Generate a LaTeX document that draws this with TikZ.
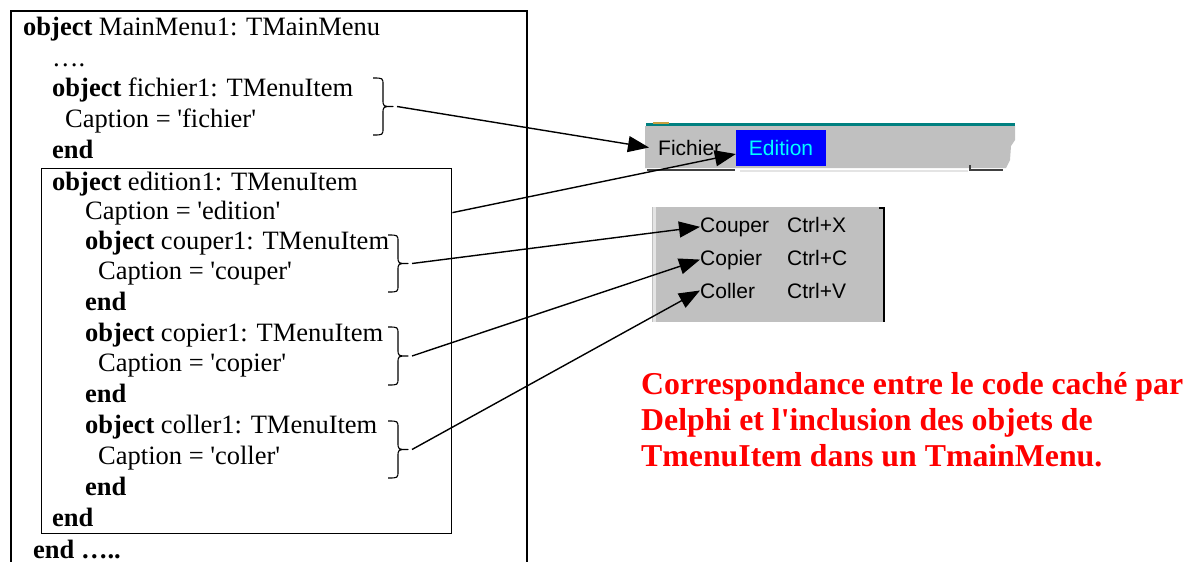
\documentclass[tikz,border=0pt]{standalone}
\usepackage{fontspec}
\setmainfont{Liberation Serif}
\newfontfamily\menufont{Liberation Sans}
\usepackage{xcolor}
\definecolor{MenuGrey}{HTML}{C0C0C0}
\definecolor{EdgeDark}{HTML}{404040}
\definecolor{EdgeLight}{HTML}{E4E4E4}
\definecolor{Teal}{HTML}{008080}
\definecolor{Mustard}{HTML}{C8A040}
\definecolor{HiBlue}{HTML}{0000FF}
\definecolor{HiCyan}{HTML}{00FFFF}
\definecolor{NoteRed}{HTML}{FF0000}
\usepackage{tikz}
\usetikzlibrary{arrows.meta,positioning}
\newcommand{\q}{\textquotesingle}
\tikzset{
  pics/curly/.style={code={
    \draw[line width=1.1pt,line join=round]
      (0,0) .. controls (10,0) .. (10,7) -- (10,#1/2-7)
      .. controls (10,#1/2) .. (20,#1/2)
      .. controls (10,#1/2) .. (10,#1/2+7) -- (10,#1-7)
      .. controls (10,#1) .. (0,#1);
    \coordinate (-tip) at (24,#1/2);
  }}
}

\begin{document}
\begin{tikzpicture}[
  x=1pt,y=-1pt,
  code/.style={anchor=base west,inner sep=0pt,font=\fontsize{26.5}{31}\selectfont},
  item/.style={anchor=base west,inner sep=0pt,font=\menufont\fontsize{21}{24}\selectfont},
  note/.style={anchor=base west,inner sep=0pt,text=NoteRed,font=\bfseries\fontsize{31.8}{36}\selectfont},
  frame/.style={draw=black,line width=1.4pt},
  arrow/.style={-{Triangle[length=21pt,width=16pt]},line width=1.4pt}
]
\useasboundingbox (0,0) rectangle (1191,562);

% code hidden by Delphi
\draw[frame] (11,566) |- (527,11) -- (527,566);
\node[frame,anchor=north west,minimum width=410pt,minimum height=365pt,inner sep=0pt] (edbox) at (41,168) {};

\node[code] (mainobj) at (23,35) {\textbf{object} MainMenu1: TMainMenu};
\node[code] (dots) at (52,66) {….};
\node[code] (fichobj) at (52,96) {\textbf{object} fichier1: TMenuItem};
\node[code] (fichcap) at (65,127) {Caption = \q fichier\q};
\node[code] (fichend) at (52,158) {\textbf{end}};
\node[code] (edobj) at (52,190) {\textbf{object} edition1: TMenuItem};
\node[code] (edcap) at (85,219) {Caption = \q edition\q};
\node[code] (coupobj) at (85,249) {\textbf{object} couper1: TMenuItem};
\node[code] (coupcap) at (98,279) {Caption = \q couper\q};
\node[code] (coupend) at (85,310) {\textbf{end}};
\node[code] (copobj) at (85,341) {\textbf{object} copier1: TMenuItem};
\node[code] (copcap) at (98,371) {Caption = \q copier\q};
\node[code] (copend) at (85,402) {\textbf{end}};
\node[code] (colobj) at (85,433) {\textbf{object} coller1: TMenuItem};
\node[code] (colcap) at (98,464) {Caption = \q coller\q};
\node[code] (colend) at (85,495) {\textbf{end}};
\node[code] (edend) at (52,526) {\textbf{end}};
\node[code] (mainend) at (33,558) {\textbf{end …..}};

\pic (fichbr) at (373,78) {curly=57};
\pic (coupbr) at (388,235) {curly=57};
\pic (copbr) at (388,327) {curly=58};
\pic (colbr) at (388,421) {curly=57};

% menu bar
\fill[MenuGrey] (645,126) -- (1015,126) -- (1015,140) -- (1011,146) -- (1010,160) -- (1006,168) -- (645,168) -- cycle;
\draw[Teal,line width=3pt] (646,124) -- (1015,124);
\draw[Mustard,line width=2pt] (653,123) -- (669,123);
\draw[EdgeDark,line width=2.5pt] (647,170) -- (735,170);
\draw[EdgeLight,line width=2pt] (740,171) -- (968,171);
\draw[EdgeDark,line width=2.5pt] (970,165) -- (970,170) -- (1003,170);
\node[item] (fichier) at (658,155) {Fichier};
\node[fill=HiBlue,text=HiCyan,font=\menufont\fontsize{21}{24}\selectfont,minimum width=90pt,minimum height=36pt,inner sep=0pt] (edition) at (781,148) {Edition};

% popup menu
\fill[MenuGrey] (652,207) rectangle (885,322);
\draw[EdgeLight,line width=3pt] (654,207) -- (654,322);
\draw[line width=1.5pt] (879,208) -- (884,208) -- (884,322);
\node[item] (couper) at (700,232) {Couper};
\node[item] (ctrlx) at (787,232) {Ctrl+X};
\node[item] (copier) at (700,265) {Copier};
\node[item] (ctrlc) at (787,265) {Ctrl+C};
\node[item] (coller) at (700,298) {Coller};
\node[item] (ctrlv) at (787,298) {Ctrl+V};

% correspondence
\draw[arrow] (fichbr-tip) -- ([xshift=-9pt]fichier.west);
\draw[arrow] (edbox.east |- edcap) -- ([yshift=-6pt]edition.west);
\draw[arrow] (coupbr-tip) -- (couper.west);
\draw[arrow] (copbr-tip) -- (copier.west);
\draw[arrow] (colbr-tip) -- (coller.west);

\node[note] (note1) at (641,394) {Correspondance entre le code caché par};
\node[note] (note2) at (641,430) {Delphi et l\q inclusion des objets de};
\node[note] (note3) at (641,466) {TmenuItem dans un TmainMenu.};
\end{tikzpicture}
\end{document}
